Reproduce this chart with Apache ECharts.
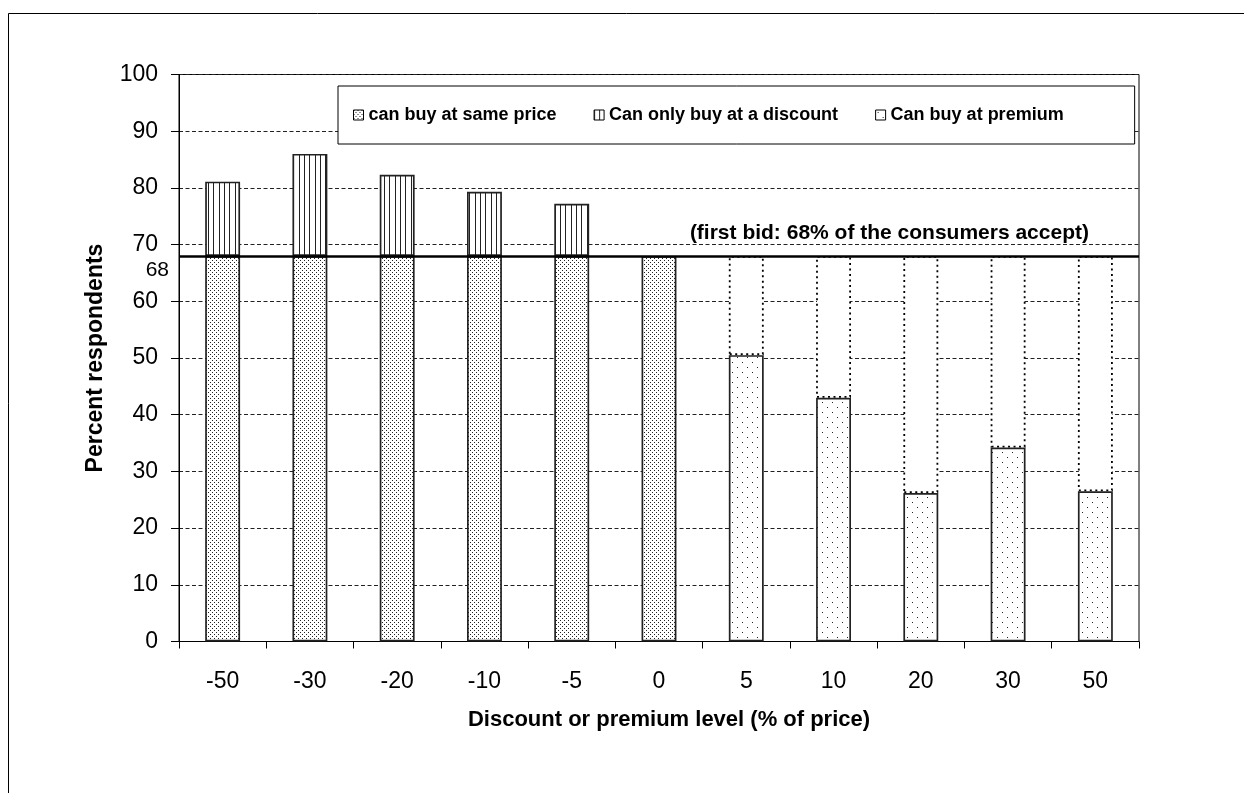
<!DOCTYPE html>
<html>
<head>
<meta charset="utf-8">
<script src="https://cdn.jsdelivr.net/npm/echarts@6/dist/echarts.min.js"></script>
<style>
  html, body { margin: 0; padding: 0; background: #fff; }
  #chart { width: 1244px; height: 793px; }
</style>
</head>
<body>
<div id="chart"></div>
<script>
// Price levels offered (% discount / premium)
const categories = ['-50', '-30', '-20', '-10', '-5', '0', '5', '10', '20', '30', '50'];
// Share accepting the first bid
const FIRST_BID = 68;
// Respondents who buy at the same price
const samePrice = [68, 68, 68, 68, 68, 68, null, null, null, null, null];
// Extra respondents who only buy once a discount is offered
const onlyAtDiscount = [13.1, 18.0, 14.3, 11.3, 9.2, null, null, null, null, null, null];
// Respondents still buying when a premium is charged
const atPremium = [null, null, null, null, null, null, 50.5, 43.0, 26.2, 34.2, 26.5];
const seriesNames = ['can buy at same price', 'Can only buy at a discount', 'Can buy at premium'];
const yMin = 0, yMax = 100, yStep = 10;
const annotationText = '(first bid: 68% of the consumers accept)';
const xTitle = 'Discount or premium level (% of price)';
const yTitle = 'Percent respondents';

// Respondents lost at each premium level, up to the first-bid share
const lostAtPremium = atPremium.map(v => (v == null ? null : FIRST_BID - v));

const FONT = '"Liberation Sans", Arial, Helvetica, sans-serif';

function pattern(w, h, draw) {
  const c = document.createElement('canvas');
  c.width = w; c.height = h;
  const ctx = c.getContext('2d');
  ctx.fillStyle = '#ffffff';
  ctx.fillRect(0, 0, w, h);
  ctx.fillStyle = '#222222';
  draw(ctx);
  return { image: c, repeat: 'repeat' };
}
const denseDots = pattern(4, 4, ctx => { ctx.fillRect(0, 0, 1, 1); ctx.fillRect(2, 2, 1, 1); });
const stripes = pattern(16, 4, ctx => { ctx.fillRect(0, 0, 1, 4); ctx.fillRect(5, 0, 1, 4); ctx.fillRect(11, 0, 1, 4); });
const sparseDots = pattern(10, 10, ctx => { ctx.fillRect(2, 2, 1, 1); ctx.fillRect(7, 7, 1, 1); });

const chart = echarts.init(document.getElementById('chart'), null, { renderer: 'canvas' });

const barBase = { type: 'bar', stack: 'resp', barWidth: '40%', z: 2 };
const solidEdge = { borderColor: '#222', borderWidth: 1.7 };

chart.setOption({
  backgroundColor: '#ffffff',
  animation: false,
  textStyle: { fontFamily: FONT, color: '#000' },
  grid: {
    left: 179, right: 105, top: 74.5, bottom: 151.5,
    show: true, borderColor: '#000', borderWidth: 1, backgroundColor: 'transparent'
  },
  legend: {
    left: 338, top: 86,
    padding: [20, 71, 20, 15],
    itemGap: 37, itemWidth: 10, itemHeight: 10,
    borderColor: '#000', borderWidth: 1, borderRadius: 0,
    backgroundColor: '#fff',
    icon: 'rect',
    textStyle: { fontFamily: FONT, fontSize: 18, fontWeight: 'bold', color: '#000' },
    data: [
      { name: seriesNames[0], itemStyle: { color: denseDots, borderColor: '#000', borderWidth: 1 } },
      { name: seriesNames[1], itemStyle: { color: stripes, borderColor: '#000', borderWidth: 1 } },
      { name: seriesNames[2], itemStyle: { color: sparseDots, borderColor: '#000', borderWidth: 1 } }
    ]
  },
  xAxis: {
    type: 'category',
    data: categories,
    boundaryGap: true,
    name: xTitle,
    nameLocation: 'middle',
    nameGap: 67,
    nameTextStyle: { fontFamily: FONT, fontSize: 22, fontWeight: 'bold', color: '#000', padding: [0, 0, 0, 20] },
    axisLine: { lineStyle: { color: '#000', width: 1 } },
    axisTick: { show: true, length: 7, lineStyle: { color: '#000' } },
    axisLabel: { fontFamily: FONT, fontSize: 23, color: '#000', margin: 29 },
    splitLine: { show: false }
  },
  yAxis: {
    type: 'value',
    min: yMin, max: yMax, interval: yStep,
    name: yTitle,
    nameLocation: 'middle',
    nameGap: 72,
    nameTextStyle: { fontFamily: FONT, fontSize: 23, fontWeight: 'bold', color: '#000' },
    axisLine: { show: true, lineStyle: { color: '#000', width: 1 } },
    axisTick: { show: true, length: 8, lineStyle: { color: '#000' } },
    axisLabel: { fontFamily: FONT, fontSize: 23, color: '#000', margin: 21 },
    splitLine: { show: true, lineStyle: { color: '#222', width: 1, type: [4, 2.5] } }
  },
  series: [
    Object.assign({}, barBase, {
      name: seriesNames[0], data: samePrice,
      itemStyle: Object.assign({ color: denseDots }, solidEdge)
    }),
    Object.assign({}, barBase, {
      name: seriesNames[1], data: onlyAtDiscount,
      itemStyle: Object.assign({ color: stripes }, solidEdge)
    }),
    Object.assign({}, barBase, {
      name: seriesNames[2], data: atPremium, z: 4,
      itemStyle: Object.assign({ color: sparseDots }, solidEdge),
      markLine: {
        silent: true, symbol: 'none',
        lineStyle: { color: '#000', width: 2.5, type: 'solid' },
        label: { show: false },
        data: [{ yAxis: FIRST_BID }]
      }
    }),
    Object.assign({}, barBase, {
      name: 'lost at premium', data: lostAtPremium, z: 1,
      itemStyle: { color: '#fff', borderColor: '#000', borderWidth: 1.8, borderType: [2, 3.5] }
    })
  ]
});

// Texts tied to the first-bid line, placed from the axis scale
const bidY = chart.convertToPixel({ yAxisIndex: 0 }, FIRST_BID);
const gridRight = chart.convertToPixel({ xAxisIndex: 0 }, categories[categories.length - 1]) + 43.6;
const axisLeft = chart.convertToPixel({ xAxisIndex: 0 }, categories[0]) - 43.6;

chart.setOption({
  graphic: [
    {
      type: 'rect', silent: true, z: -10,
      shape: { x: 8.5, y: 13.5, width: 1400, height: 900 },
      style: { fill: 'none', stroke: '#000', lineWidth: 1 }
    },
    {
      type: 'text', z: 10,
      x: gridRight - 50, y: bidY - 23,
      style: {
        text: annotationText, fill: '#000',
        font: 'bold 21px ' + FONT, align: 'right', verticalAlign: 'middle'
      }
    },
    {
      type: 'text', z: 10,
      x: axisLeft - 10, y: bidY + 14,
      style: {
        text: String(FIRST_BID), fill: '#000',
        font: '21px ' + FONT, align: 'right', verticalAlign: 'middle'
      }
    }
  ]
});
</script>
</body>
</html>
